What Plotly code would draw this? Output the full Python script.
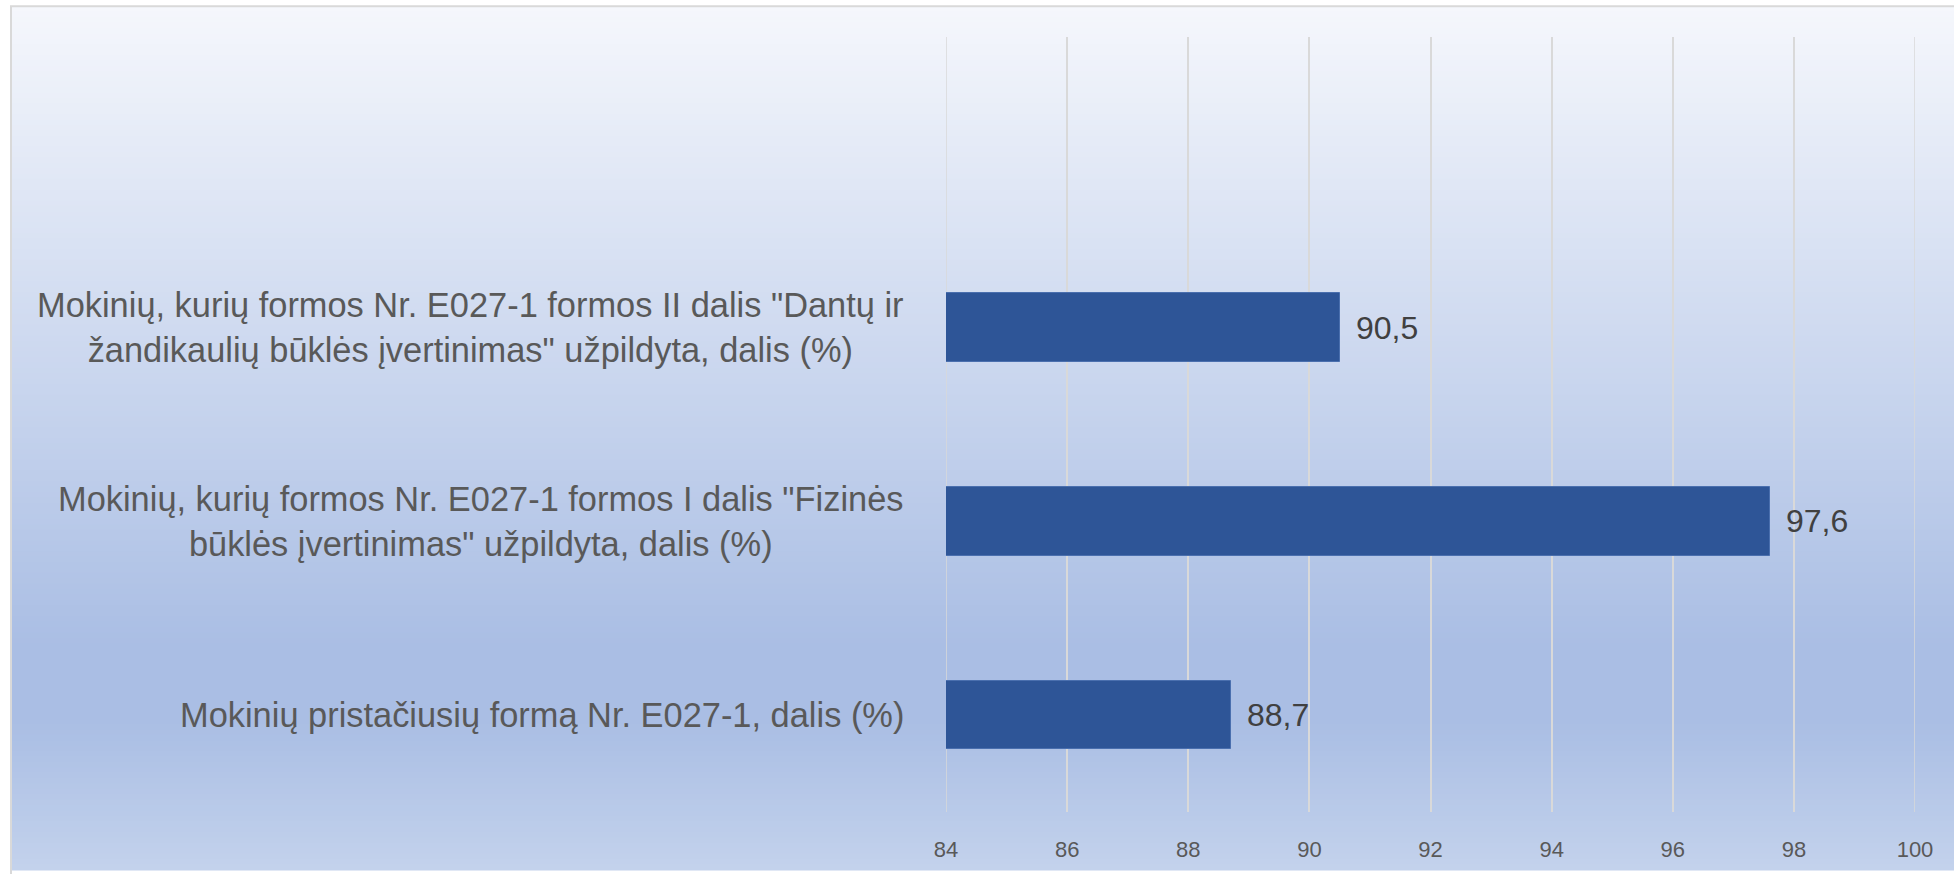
import plotly.graph_objects as go

# ---- data ----
categories = [
    "Mokinių pristačiusių formą Nr. E027-1, dalis (%)",
    "Mokinių, kurių formos Nr. E027-1 formos I dalis \"Fizinės<br>būklės įvertinimas\" užpildyta, dalis (%)",
    "Mokinių, kurių formos Nr. E027-1 formos II dalis \"Dantų ir<br>žandikaulių būklės įvertinimas\" užpildyta, dalis (%)",
]
values = [88.7, 97.6, 90.5]
value_labels = ["88,7", "97,6", "90,5"]
x_ticks = [84, 86, 88, 90, 92, 94, 96, 98, 100]

# ---- layout geometry (pixels) ----
W, H = 1954, 874
ML, MR, MT, MB = 946, 39, 37, 58
PW = W - ML - MR
PH = H - MT - MB


def px_x(px):
    return (px - ML) / PW


def px_y(py):
    return (H - MB - py) / PH


def hex2rgb(h):
    h = h.lstrip("#")
    return tuple(int(h[i:i + 2], 16) for i in (0, 2, 4))


stops = [(0.0, "#F5F7FC"), (0.74, "#AABEE4"), (0.83, "#AABEE4"), (1.0, "#C3D2EC")]


def grad(t):
    for (t0, c0), (t1, c1) in zip(stops[:-1], stops[1:]):
        if t0 <= t <= t1:
            a = (t - t0) / (t1 - t0) if t1 > t0 else 0
            r0, g0, b0 = hex2rgb(c0)
            r1, g1, b1 = hex2rgb(c1)
            return "rgb(%d,%d,%d)" % (round(r0 + (r1 - r0) * a), round(g0 + (g1 - g0) * a), round(b0 + (b1 - b0) * a))
    return stops[-1][1]


shapes = []
FX0, FY0 = 11, 6
N = 160
for i in range(N):
    y0 = FY0 + (H - FY0) * i / N
    y1 = FY0 + (H - FY0) * (i + 1) / N + 0.8
    t = (i + 0.5) / N
    shapes.append(dict(type="rect", xref="paper", yref="paper", layer="below",
                       x0=px_x(FX0), x1=px_x(W + 5), y0=px_y(y1), y1=px_y(y0),
                       fillcolor=grad(t), line=dict(width=0)))
# frame border
shapes.append(dict(type="rect", xref="paper", yref="paper", layer="below",
                   x0=px_x(FX0), x1=px_x(W + 20), y0=px_y(H + 20), y1=px_y(FY0),
                   fillcolor="rgba(0,0,0,0)", line=dict(color="#D9D9D9", width=2)))
# gridlines at the axis ends (plotly omits them at the range edges)
for xv in (x_ticks[0], x_ticks[-1]):
    shapes.append(dict(type="line", xref="x", yref="paper", layer="below",
                       x0=xv, x1=xv, y0=0, y1=1, line=dict(color="#D9D9D9", width=1.5)))

fig = go.Figure()
fig.add_trace(go.Bar(
    x=values, y=categories, orientation="h",
    marker=dict(color="#2E5597", line=dict(color="#4A6FAE", width=1)),
    width=0.354, hoverinfo="skip",
))

annotations = []
for cat, v, lab in zip(categories, values, value_labels):
    annotations.append(dict(x=v, y=cat, xref="x", yref="y", text=lab, showarrow=False,
                            xanchor="left", yanchor="middle", xshift=14,
                            font=dict(family="Liberation Sans", size=32, color="#404040")))
    annotations.append(dict(x=0, y=cat, xref="paper", yref="y", text=cat, showarrow=False,
                            xanchor="right", yanchor="middle", xshift=-40, align="center",
                            font=dict(family="Liberation Sans", size=34.4, color="#595959")))

fig.update_layout(
    width=W, height=H,
    margin=dict(l=ML, r=MR, t=MT, b=MB, pad=0),
    paper_bgcolor="white", plot_bgcolor="rgba(0,0,0,0)",
    showlegend=False, bargap=0,
    separators=",.",
    shapes=shapes, annotations=annotations,
    xaxis=dict(range=[84, 100], tickvals=x_ticks, showgrid=True, gridcolor="#D9D9D9", gridwidth=1.5,
               zeroline=False, showline=False, ticks="",
               tickfont=dict(family="Liberation Sans", size=22, color="#595959"),
               ticklabelstandoff=22),
    yaxis=dict(type="category", categoryorder="array", categoryarray=categories + ["_"],
               range=[-0.5, 3.5], showticklabels=False, showgrid=False, zeroline=False,
               showline=False, ticks=""),
)

fig.write_html("out.html", config={"displayModeBar": False},
               post_script="document.body.style.margin='0';document.body.style.overflow='hidden';")
